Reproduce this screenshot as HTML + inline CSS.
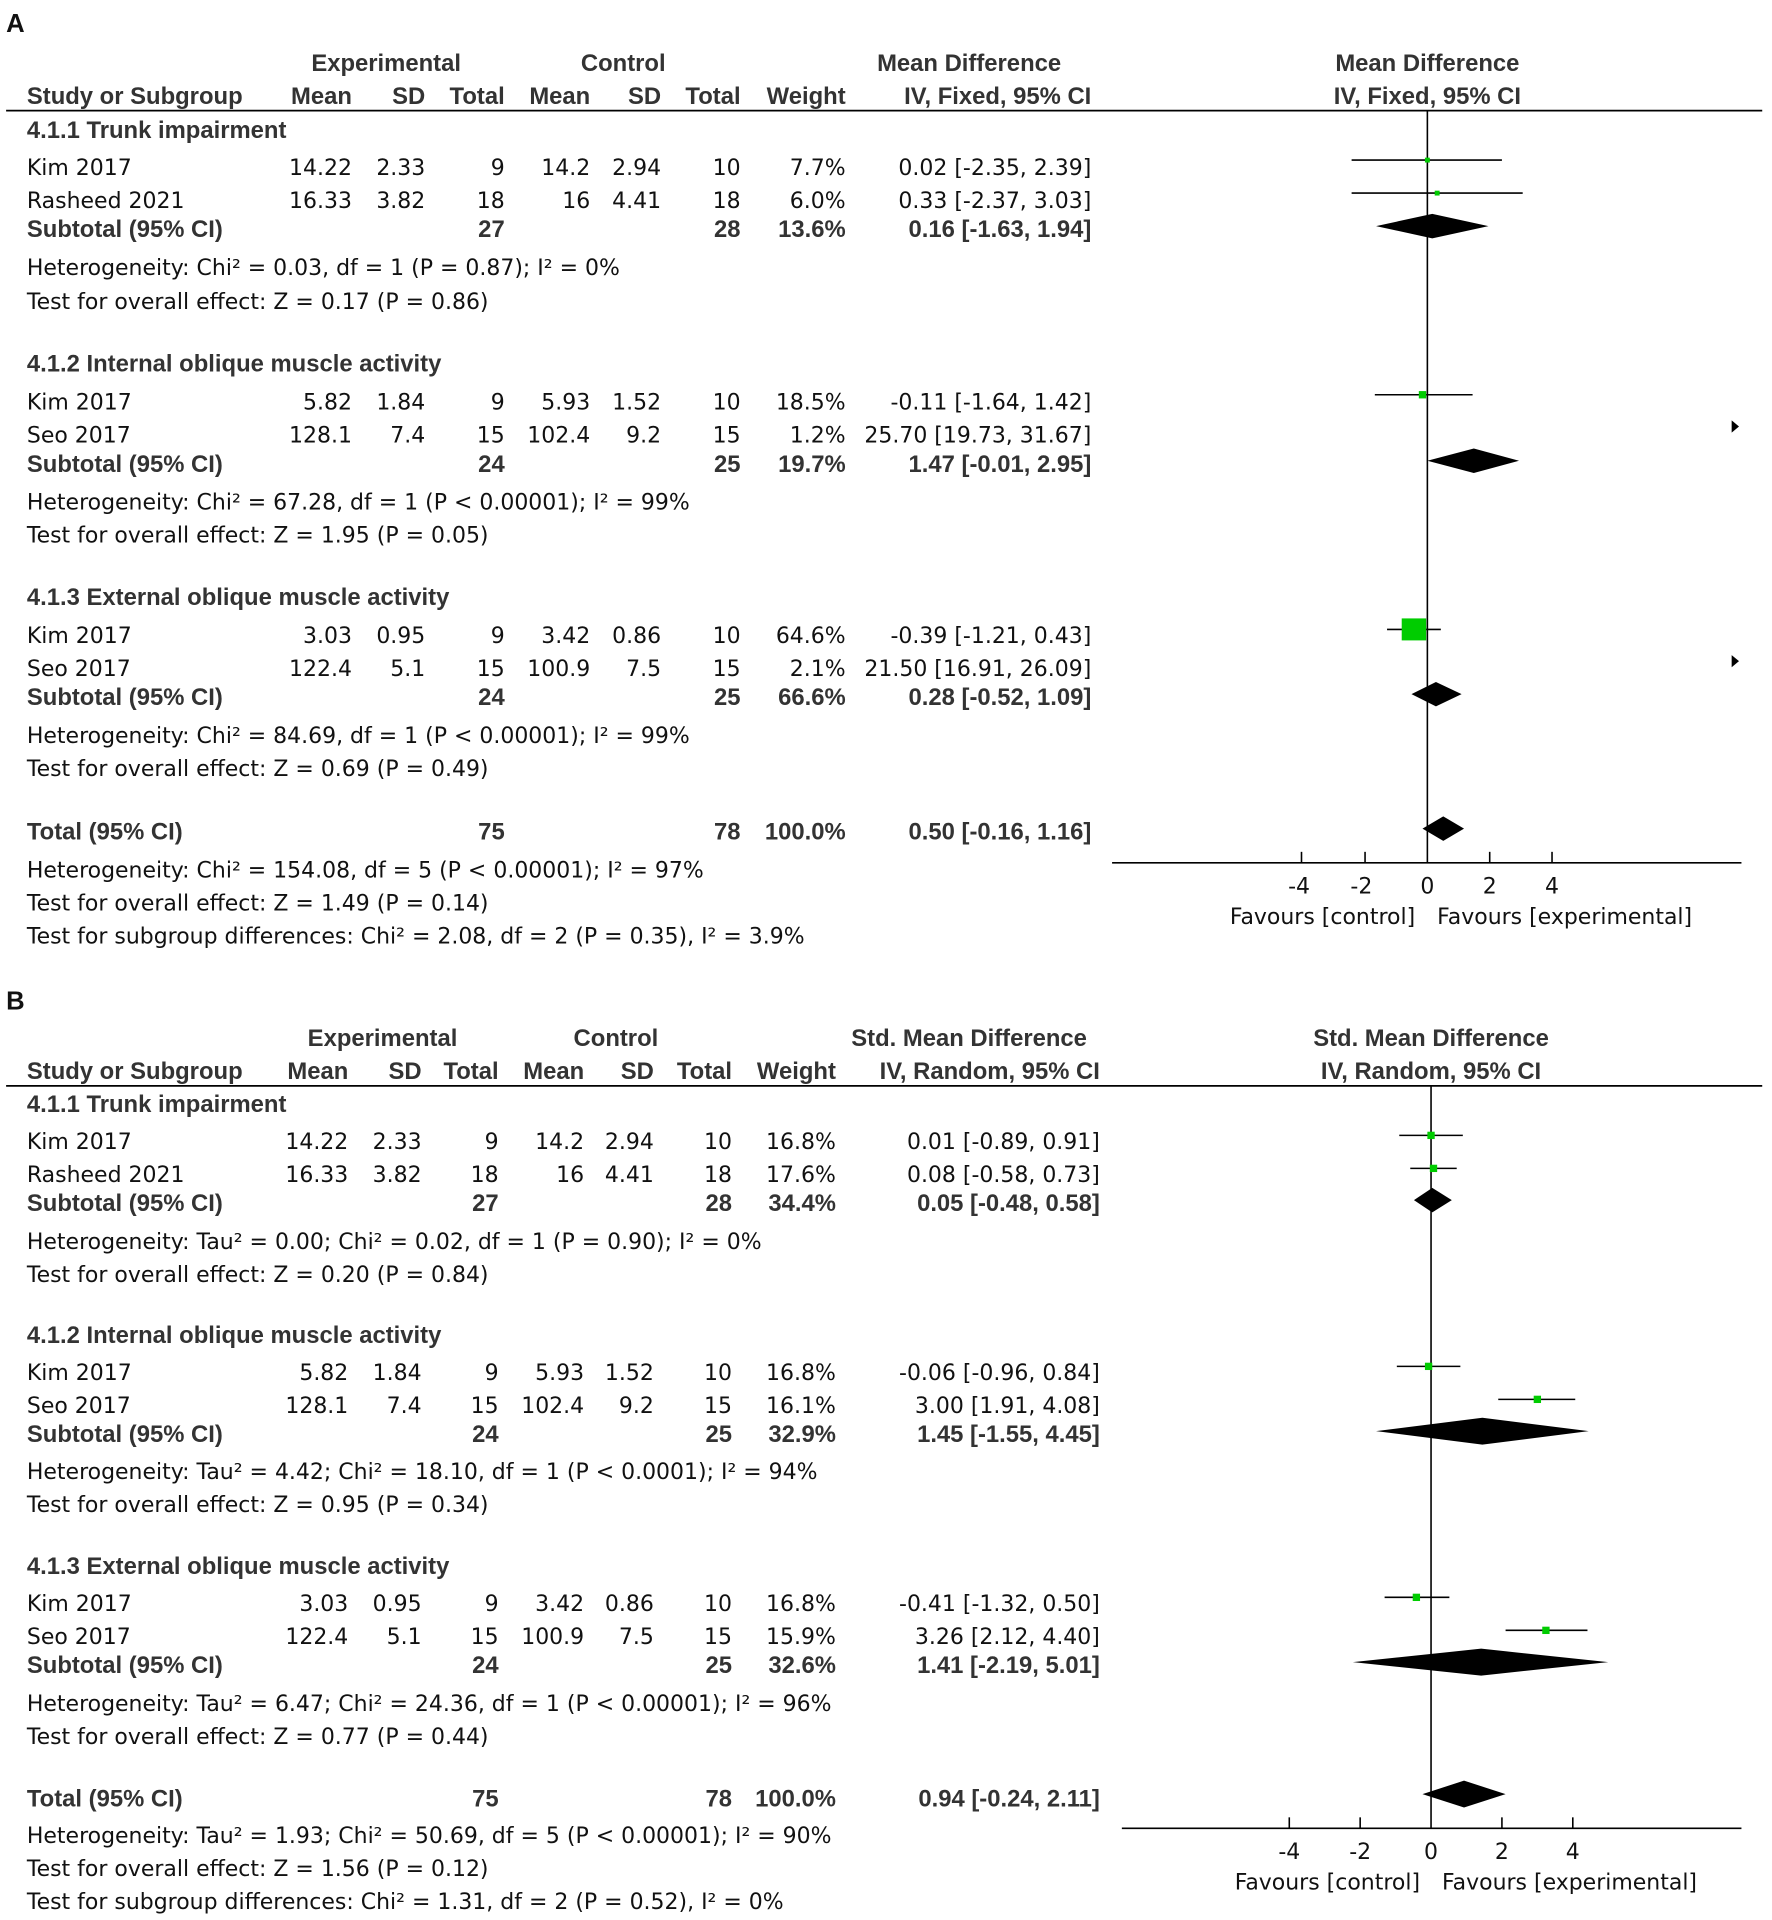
<!DOCTYPE html>
<html><head><meta charset="utf-8"><style>
html,body{margin:0;padding:0;background:#fff;}
svg{display:block;}
text{font-family:"DejaVu Sans","Liberation Sans",sans-serif;font-size:18px;fill:#111;}
.b{font-weight:bold;font-family:"Liberation Sans",sans-serif;}
.h{font-weight:bold;fill:#333;font-family:"Liberation Sans",sans-serif;font-size:19.5px;}
.e{text-anchor:end;}
.m{text-anchor:middle;}
</style></head><body>
<svg width="1772" height="1920" viewBox="0 0 1450 1571" preserveAspectRatio="none" xmlns="http://www.w3.org/2000/svg">
<g transform="translate(0,1)">
<!-- PANEL A -->
<text x="5" y="25" class="b" style="font-size:21px">A</text>
<text x="316" y="57" class="h m">Experimental</text>
<text x="510" y="57" class="h m">Control</text>
<text x="793" y="57" class="h m">Mean Difference</text>
<text x="1168" y="57" class="h m">Mean Difference</text>
<text x="22" y="84" class="h">Study or Subgroup</text>
<text x="288" y="84" class="h e">Mean</text>
<text x="348" y="84" class="h e">SD</text>
<text x="413" y="84" class="h e">Total</text>
<text x="483" y="84" class="h e">Mean</text>
<text x="541" y="84" class="h e">SD</text>
<text x="606" y="84" class="h e">Total</text>
<text x="692" y="84" class="h e">Weight</text>
<text x="893" y="84" class="h e">IV, Fixed, 95% CI</text>
<text x="1168" y="84" class="h m">IV, Fixed, 95% CI</text>

<text x="22" y="112" class="h">4.1.1 Trunk impairment</text>
<g transform="translate(0,142)"><text x="22">Kim 2017</text><text x="288" class="e">14.22</text><text x="348" class="e">2.33</text><text x="413" class="e">9</text><text x="483" class="e">14.2</text><text x="541" class="e">2.94</text><text x="606" class="e">10</text><text x="692" class="e">7.7%</text><text x="893" class="e">0.02 [-2.35, 2.39]</text></g>
<g transform="translate(0,169)"><text x="22">Rasheed 2021</text><text x="288" class="e">16.33</text><text x="348" class="e">3.82</text><text x="413" class="e">18</text><text x="483" class="e">16</text><text x="541" class="e">4.41</text><text x="606" class="e">18</text><text x="692" class="e">6.0%</text><text x="893" class="e">0.33 [-2.37, 3.03]</text></g>
<g transform="translate(0,193)"><text x="22" class="h">Subtotal (95% CI)</text><text x="413" class="h e">27</text><text x="606" class="h e">28</text><text x="692" class="h e">13.6%</text><text x="893" class="h e">0.16 [-1.63, 1.94]</text></g>
<text x="22" y="224">Heterogeneity: Chi² = 0.03, df = 1 (P = 0.87); I² = 0%</text>
<text x="22" y="252">Test for overall effect: Z = 0.17 (P = 0.86)</text>

<text x="22" y="303" class="h">4.1.2 Internal oblique muscle activity</text>
<g transform="translate(0,334)"><text x="22">Kim 2017</text><text x="288" class="e">5.82</text><text x="348" class="e">1.84</text><text x="413" class="e">9</text><text x="483" class="e">5.93</text><text x="541" class="e">1.52</text><text x="606" class="e">10</text><text x="692" class="e">18.5%</text><text x="893" class="e">-0.11 [-1.64, 1.42]</text></g>
<g transform="translate(0,361)"><text x="22">Seo 2017</text><text x="288" class="e">128.1</text><text x="348" class="e">7.4</text><text x="413" class="e">15</text><text x="483" class="e">102.4</text><text x="541" class="e">9.2</text><text x="606" class="e">15</text><text x="692" class="e">1.2%</text><text x="893" class="e">25.70 [19.73, 31.67]</text></g>
<g transform="translate(0,385)"><text x="22" class="h">Subtotal (95% CI)</text><text x="413" class="h e">24</text><text x="606" class="h e">25</text><text x="692" class="h e">19.7%</text><text x="893" class="h e">1.47 [-0.01, 2.95]</text></g>
<text x="22" y="416">Heterogeneity: Chi² = 67.28, df = 1 (P &lt; 0.00001); I² = 99%</text>
<text x="22" y="443">Test for overall effect: Z = 1.95 (P = 0.05)</text>

<text x="22" y="494" class="h">4.1.3 External oblique muscle activity</text>
<g transform="translate(0,525)"><text x="22">Kim 2017</text><text x="288" class="e">3.03</text><text x="348" class="e">0.95</text><text x="413" class="e">9</text><text x="483" class="e">3.42</text><text x="541" class="e">0.86</text><text x="606" class="e">10</text><text x="692" class="e">64.6%</text><text x="893" class="e">-0.39 [-1.21, 0.43]</text></g>
<g transform="translate(0,552)"><text x="22">Seo 2017</text><text x="288" class="e">122.4</text><text x="348" class="e">5.1</text><text x="413" class="e">15</text><text x="483" class="e">100.9</text><text x="541" class="e">7.5</text><text x="606" class="e">15</text><text x="692" class="e">2.1%</text><text x="893" class="e">21.50 [16.91, 26.09]</text></g>
<g transform="translate(0,576)"><text x="22" class="h">Subtotal (95% CI)</text><text x="413" class="h e">24</text><text x="606" class="h e">25</text><text x="692" class="h e">66.6%</text><text x="893" class="h e">0.28 [-0.52, 1.09]</text></g>
<text x="22" y="607">Heterogeneity: Chi² = 84.69, df = 1 (P &lt; 0.00001); I² = 99%</text>
<text x="22" y="634">Test for overall effect: Z = 0.69 (P = 0.49)</text>

<g transform="translate(0,686)"><text x="22" class="h">Total (95% CI)</text><text x="413" class="h e">75</text><text x="606" class="h e">78</text><text x="692" class="h e">100.0%</text><text x="893" class="h e">0.50 [-0.16, 1.16]</text></g>
<text x="22" y="717">Heterogeneity: Chi² = 154.08, df = 5 (P &lt; 0.00001); I² = 97%</text>
<text x="22" y="744">Test for overall effect: Z = 1.49 (P = 0.14)</text>
<text x="22" y="771">Test for subgroup differences: Chi² = 2.08, df = 2 (P = 0.35), I² = 3.9%</text>
<text x="1063" y="730" class="m">-4</text><text x="1114" y="730" class="m">-2</text><text x="1168" y="730" class="m">0</text><text x="1219" y="730" class="m">2</text><text x="1270" y="730" class="m">4</text>
<text x="1158" y="755" class="e">Favours [control]</text>
<text x="1176" y="755">Favours [experimental]</text>

<!-- PANEL B text -->
<text x="5" y="825" class="b" style="font-size:21px">B</text>
<text x="313" y="855" class="h m">Experimental</text>
<text x="504" y="855" class="h m">Control</text>
<text x="793" y="855" class="h m">Std. Mean Difference</text>
<text x="1171" y="855" class="h m">Std. Mean Difference</text>
<text x="22" y="882" class="h">Study or Subgroup</text>
<text x="285" y="882" class="h e">Mean</text>
<text x="345" y="882" class="h e">SD</text>
<text x="408" y="882" class="h e">Total</text>
<text x="478" y="882" class="h e">Mean</text>
<text x="535" y="882" class="h e">SD</text>
<text x="599" y="882" class="h e">Total</text>
<text x="684" y="882" class="h e">Weight</text>
<text x="900" y="882" class="h e">IV, Random, 95% CI</text>
<text x="1171" y="882" class="h m">IV, Random, 95% CI</text>

<text x="22" y="909" class="h">4.1.1 Trunk impairment</text>
<g transform="translate(0,939)"><text x="22">Kim 2017</text><text x="285" class="e">14.22</text><text x="345" class="e">2.33</text><text x="408" class="e">9</text><text x="478" class="e">14.2</text><text x="535" class="e">2.94</text><text x="599" class="e">10</text><text x="684" class="e">16.8%</text><text x="900" class="e">0.01 [-0.89, 0.91]</text></g>
<g transform="translate(0,966)"><text x="22">Rasheed 2021</text><text x="285" class="e">16.33</text><text x="345" class="e">3.82</text><text x="408" class="e">18</text><text x="478" class="e">16</text><text x="535" class="e">4.41</text><text x="599" class="e">18</text><text x="684" class="e">17.6%</text><text x="900" class="e">0.08 [-0.58, 0.73]</text></g>
<g transform="translate(0,990)"><text x="22" class="h">Subtotal (95% CI)</text><text x="408" class="h e">27</text><text x="599" class="h e">28</text><text x="684" class="h e">34.4%</text><text x="900" class="h e">0.05 [-0.48, 0.58]</text></g>
<text x="22" y="1021">Heterogeneity: Tau² = 0.00; Chi² = 0.02, df = 1 (P = 0.90); I² = 0%</text>
<text x="22" y="1048">Test for overall effect: Z = 0.20 (P = 0.84)</text>

<text x="22" y="1098" class="h">4.1.2 Internal oblique muscle activity</text>
<g transform="translate(0,1128)"><text x="22">Kim 2017</text><text x="285" class="e">5.82</text><text x="345" class="e">1.84</text><text x="408" class="e">9</text><text x="478" class="e">5.93</text><text x="535" class="e">1.52</text><text x="599" class="e">10</text><text x="684" class="e">16.8%</text><text x="900" class="e">-0.06 [-0.96, 0.84]</text></g>
<g transform="translate(0,1155)"><text x="22">Seo 2017</text><text x="285" class="e">128.1</text><text x="345" class="e">7.4</text><text x="408" class="e">15</text><text x="478" class="e">102.4</text><text x="535" class="e">9.2</text><text x="599" class="e">15</text><text x="684" class="e">16.1%</text><text x="900" class="e">3.00 [1.91, 4.08]</text></g>
<g transform="translate(0,1179)"><text x="22" class="h">Subtotal (95% CI)</text><text x="408" class="h e">24</text><text x="599" class="h e">25</text><text x="684" class="h e">32.9%</text><text x="900" class="h e">1.45 [-1.55, 4.45]</text></g>
<text x="22" y="1209">Heterogeneity: Tau² = 4.42; Chi² = 18.10, df = 1 (P &lt; 0.0001); I² = 94%</text>
<text x="22" y="1236">Test for overall effect: Z = 0.95 (P = 0.34)</text>

<text x="22" y="1287" class="h">4.1.3 External oblique muscle activity</text>
<g transform="translate(0,1317)"><text x="22">Kim 2017</text><text x="285" class="e">3.03</text><text x="345" class="e">0.95</text><text x="408" class="e">9</text><text x="478" class="e">3.42</text><text x="535" class="e">0.86</text><text x="599" class="e">10</text><text x="684" class="e">16.8%</text><text x="900" class="e">-0.41 [-1.32, 0.50]</text></g>
<g transform="translate(0,1344)"><text x="22">Seo 2017</text><text x="285" class="e">122.4</text><text x="345" class="e">5.1</text><text x="408" class="e">15</text><text x="478" class="e">100.9</text><text x="535" class="e">7.5</text><text x="599" class="e">15</text><text x="684" class="e">15.9%</text><text x="900" class="e">3.26 [2.12, 4.40]</text></g>
<g transform="translate(0,1368)"><text x="22" class="h">Subtotal (95% CI)</text><text x="408" class="h e">24</text><text x="599" class="h e">25</text><text x="684" class="h e">32.6%</text><text x="900" class="h e">1.41 [-2.19, 5.01]</text></g>
<text x="22" y="1399">Heterogeneity: Tau² = 6.47; Chi² = 24.36, df = 1 (P &lt; 0.00001); I² = 96%</text>
<text x="22" y="1426">Test for overall effect: Z = 0.77 (P = 0.44)</text>

<g transform="translate(0,1477)"><text x="22" class="h">Total (95% CI)</text><text x="408" class="h e">75</text><text x="599" class="h e">78</text><text x="684" class="h e">100.0%</text><text x="900" class="h e">0.94 [-0.24, 2.11]</text></g>
<text x="22" y="1507">Heterogeneity: Tau² = 1.93; Chi² = 50.69, df = 5 (P &lt; 0.00001); I² = 90%</text>
<text x="22" y="1534">Test for overall effect: Z = 1.56 (P = 0.12)</text>
<text x="22" y="1561">Test for subgroup differences: Chi² = 1.31, df = 2 (P = 0.52), I² = 0%</text>
<text x="1055" y="1520" class="m">-4</text><text x="1113" y="1520" class="m">-2</text><text x="1171" y="1520" class="m">0</text><text x="1229" y="1520" class="m">2</text><text x="1287" y="1520" class="m">4</text>
<text x="1162" y="1545" class="e">Favours [control]</text>
<text x="1180" y="1545">Favours [experimental]</text>
</g>

<line x1="5" y1="90.5" x2="1442" y2="90.5" stroke="#000" stroke-width="1.5"/>
<line x1="5" y1="888.5" x2="1442" y2="888.5" stroke="#000" stroke-width="1.5"/>

<!-- plot A -->
<g stroke="#000" stroke-width="1.3">
<line x1="1168" y1="91" x2="1168" y2="706"/>
<line x1="910" y1="706" x2="1425" y2="706"/>
<line x1="1065" y1="697" x2="1065" y2="706"/><line x1="1117" y1="697" x2="1117" y2="706"/><line x1="1219" y1="697" x2="1219" y2="706"/><line x1="1270" y1="697" x2="1270" y2="706"/>
<line x1="1106" y1="131" x2="1229" y2="131"/>
<line x1="1106" y1="158" x2="1246" y2="158"/>
<line x1="1125" y1="323" x2="1205" y2="323"/>
<line x1="1135" y1="515" x2="1179" y2="515"/>
</g>
<g fill="#00cc00">
<rect x="1166" y="129" width="4" height="4"/>
<rect x="1174" y="156" width="4" height="4"/>
<rect x="1161" y="320" width="6" height="6"/>
<rect x="1147" y="506" width="20" height="18"/>
</g>
<g fill="#000">
<polygon points="1126,185 1172,175 1218,185 1172,195"/>
<polygon points="1168,377 1206,367 1243,377 1206,387"/>
<polygon points="1155,568 1175,558 1196,568 1175,578"/>
<polygon points="1164,678 1181,668 1198,678 1181,688"/>
<polygon points="1417,344 1423,349 1417,354"/>
<polygon points="1417,536 1423,541 1417,546"/>
</g>

<!-- plot B -->
<g stroke="#000" stroke-width="1.3">
<line x1="1171" y1="889" x2="1171" y2="1496"/>
<line x1="918" y1="1496" x2="1425" y2="1496"/>
<line x1="1055" y1="1487" x2="1055" y2="1496"/><line x1="1113" y1="1487" x2="1113" y2="1496"/><line x1="1229" y1="1487" x2="1229" y2="1496"/><line x1="1287" y1="1487" x2="1287" y2="1496"/>
<line x1="1145" y1="929" x2="1197" y2="929"/>
<line x1="1154" y1="956" x2="1192" y2="956"/>
<line x1="1143" y1="1118" x2="1195" y2="1118"/>
<line x1="1226" y1="1145" x2="1289" y2="1145"/>
<line x1="1133" y1="1307" x2="1186" y2="1307"/>
<line x1="1232" y1="1334" x2="1299" y2="1334"/>
</g>
<g fill="#00cc00">
<rect x="1168" y="926" width="6" height="6"/>
<rect x="1170" y="953" width="6" height="6"/>
<rect x="1166" y="1115" width="6" height="6"/>
<rect x="1255" y="1142" width="6" height="6"/>
<rect x="1156" y="1304" width="6" height="6"/>
<rect x="1262" y="1331" width="6" height="6"/>
</g>
<g fill="#000">
<polygon points="1157,982 1172,972 1188,982 1172,992"/>
<polygon points="1126,1171 1213,1160 1300,1171 1213,1182"/>
<polygon points="1107,1360 1212,1349 1316,1360 1212,1371"/>
<polygon points="1164,1468 1198,1457 1232,1468 1198,1479"/>
</g>
</svg>
</body></html>
